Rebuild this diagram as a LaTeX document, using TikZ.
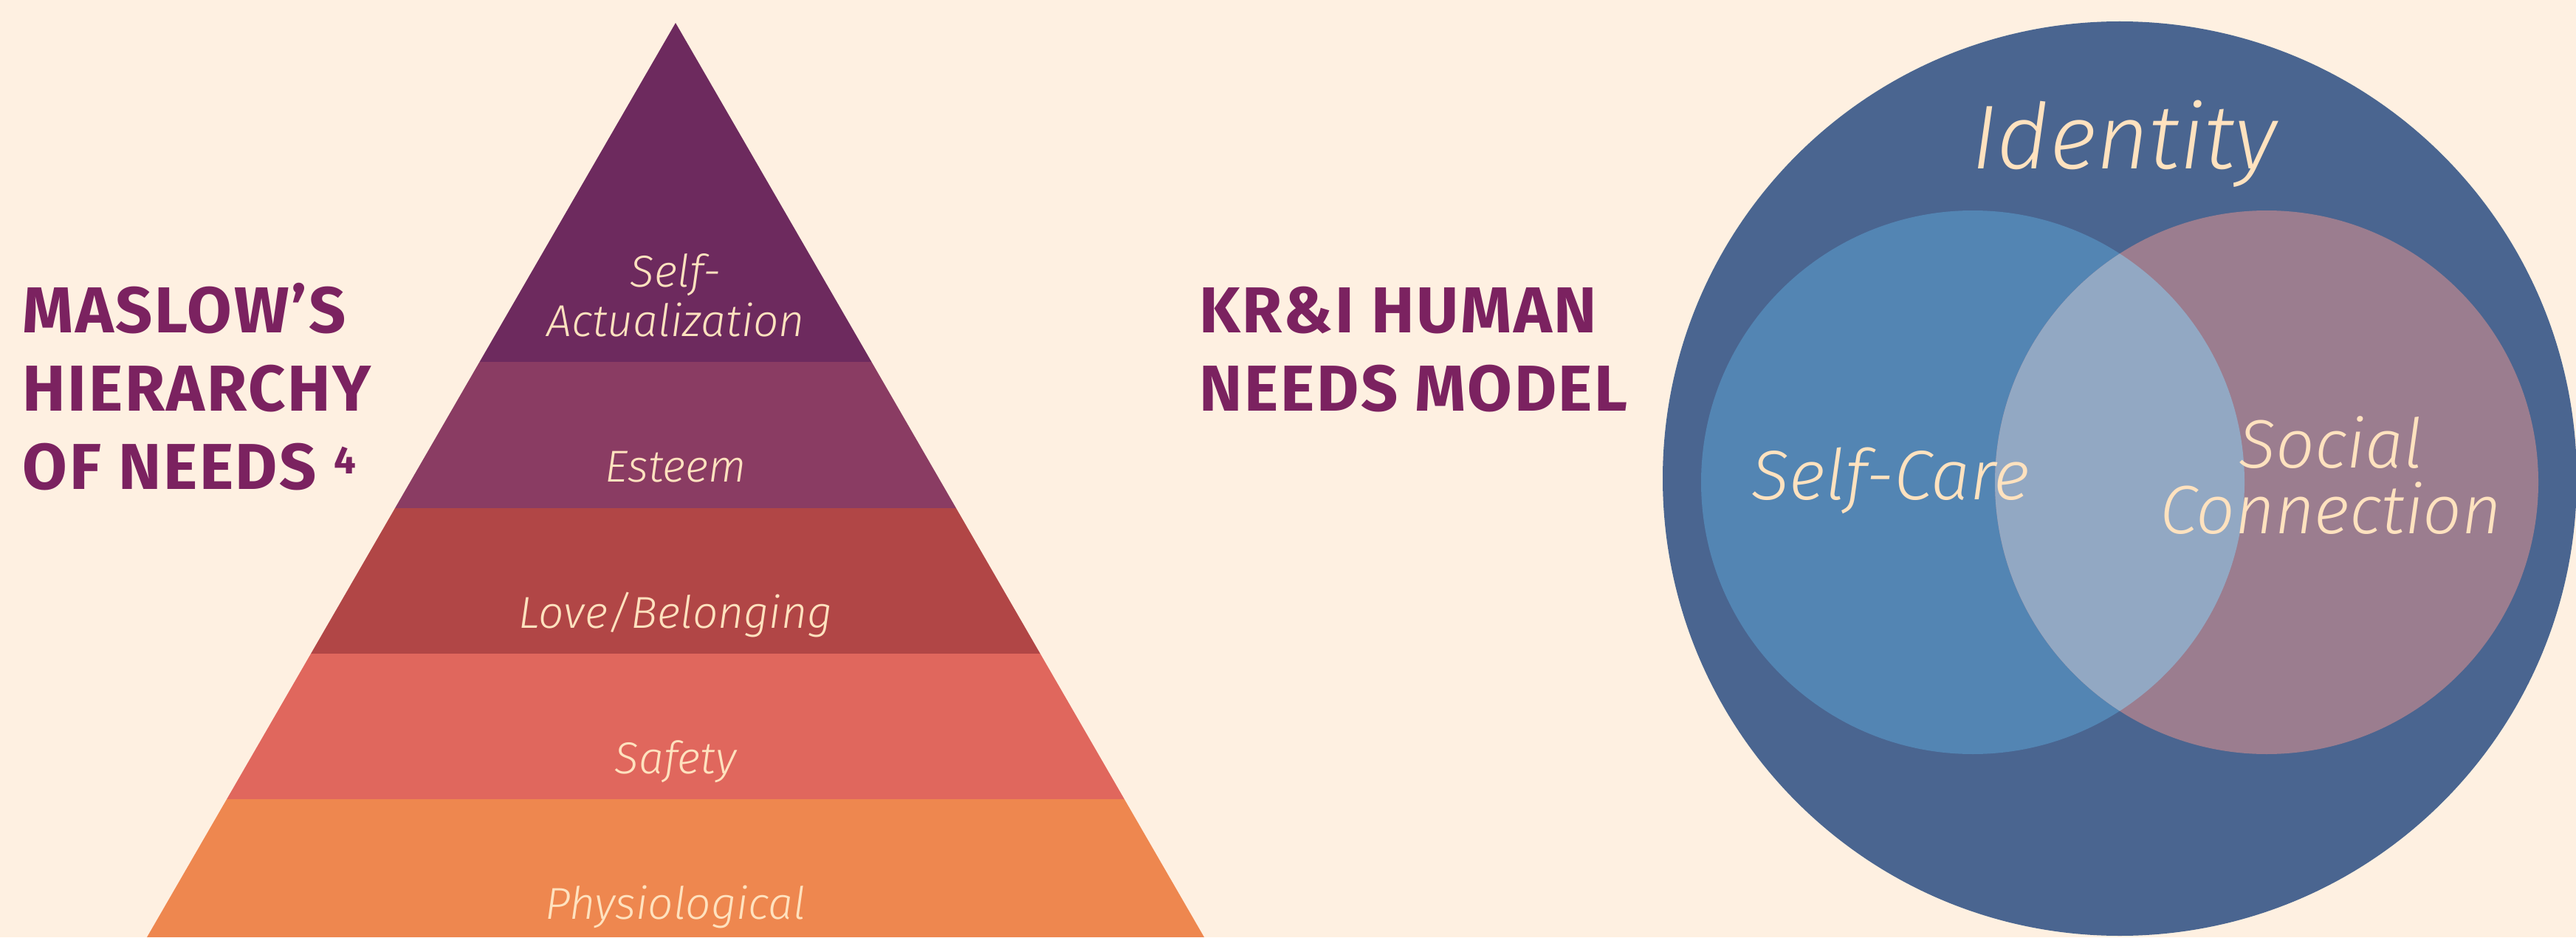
\documentclass[tikz,border=0pt]{standalone}
\usepackage{fontspec}
\setmainfont{Fira Sans}
\newfontfamily\lightfont{Fira Sans Light}[ItalicFont={Fira Sans Light Italic}]

\definecolor{paper}{HTML}{FEF0E1}
\definecolor{plum}{HTML}{7B2260}
\definecolor{cream}{HTML}{FFE2BF}
\definecolor{selfact}{HTML}{6D2A5E}
\definecolor{esteem}{HTML}{8A3C63}
\definecolor{love}{HTML}{B14646}
\definecolor{safety}{HTML}{E0675D}
\definecolor{physio}{HTML}{EE874F}
\definecolor{identity}{HTML}{4A6590}
\definecolor{selfcare}{HTML}{5385B3}
\definecolor{social}{HTML}{9B7D8F}
\definecolor{overlap}{HTML}{92A8C3}

\tikzset{
  headline/.style={anchor=base west, inner sep=0, text=plum,
    font=\bfseries\addfontfeature{LetterSpace=3}\fontsize{25}{25}\selectfont},
  bandtext/.style={anchor=base, inner sep=0, text=cream,
    font=\lightfont\itshape\fontsize{17.2}{17.2}\selectfont},
  venntext/.style={anchor=base, inner sep=0, text=cream,
    font=\lightfont\itshape\fontsize{27}{27}\selectfont}
}

\begin{document}
\begin{tikzpicture}
		\fill[paper] (0,0) rectangle (34.89,12.69);
		\useasboundingbox (0,0) rectangle (34.89,12.69);

		% left title
		\node[headline] (ma1) at (0.30,8.19) {MASLOW’S};
		\node[headline] (ma2) at (0.30,7.13) {HIERARCHY};
		\node[headline] (ma3) at (0.30,6.07) {OF NEEDS \raisebox{5.7pt}{\fontsize{15}{15}\selectfont 4}};

		% pyramid
		\begin{scope}
		\clip (9.15,12.38) -- (1.99,0) -- (16.31,0) -- cycle;
		\fill[physio] (1,0) rectangle (17,1.87);
		\fill[safety] (1,1.87) rectangle (17,3.84);
		\fill[love] (1,3.84) rectangle (17,5.81);
		\fill[esteem] (1,5.81) rectangle (17,7.79);
		\fill[selfact] (1,7.79) rectangle (17,12.5);
		\end{scope}
		\node[bandtext] (sa1) at (9.15,8.81) {Self-};
		\node[bandtext] (sa2) at (9.15,8.14) {Actualization};
		\node[bandtext] (es) at (9.15,6.17) {Esteem};
		\node[bandtext] (lb) at (9.15,4.19) {Love/Belonging};
		\node[bandtext] (sf) at (9.15,2.22) {Safety};
		\node[bandtext] (ph) at (9.15,0.25) {Physiological};

		% right title
		\node[headline] (kr1) at (16.24,8.19) {KR\&I HUMAN};
		\node[headline] (kr2) at (16.24,7.13) {NEEDS MODEL};

		% circles
		\fill[identity] (28.71,6.21) circle [radius=6.19];
		\fill[selfcare] (26.72,6.16) circle [radius=3.68];
		\fill[social] (30.70,6.16) circle [radius=3.68];
		\begin{scope}
		\clip (26.72,6.16) circle [radius=3.68];
		\fill[overlap] (30.70,6.16) circle [radius=3.68];
		\end{scope}
		\node[venntext, font=\lightfont\itshape\fontsize{35}{35}\selectfont] (id) at (28.77,10.40) {Identity};
		\node[venntext] (sc) at (25.61,5.93) {Self-Care};
		\node[venntext, font=\lightfont\itshape\fontsize{26.4}{26.4}\selectfont] (so1) at (31.57,6.36) {Social};
		\node[venntext, font=\lightfont\itshape\fontsize{26.4}{26.4}\selectfont] (so2) at (31.57,5.47) {Connection};
\end{tikzpicture}
\end{document}
